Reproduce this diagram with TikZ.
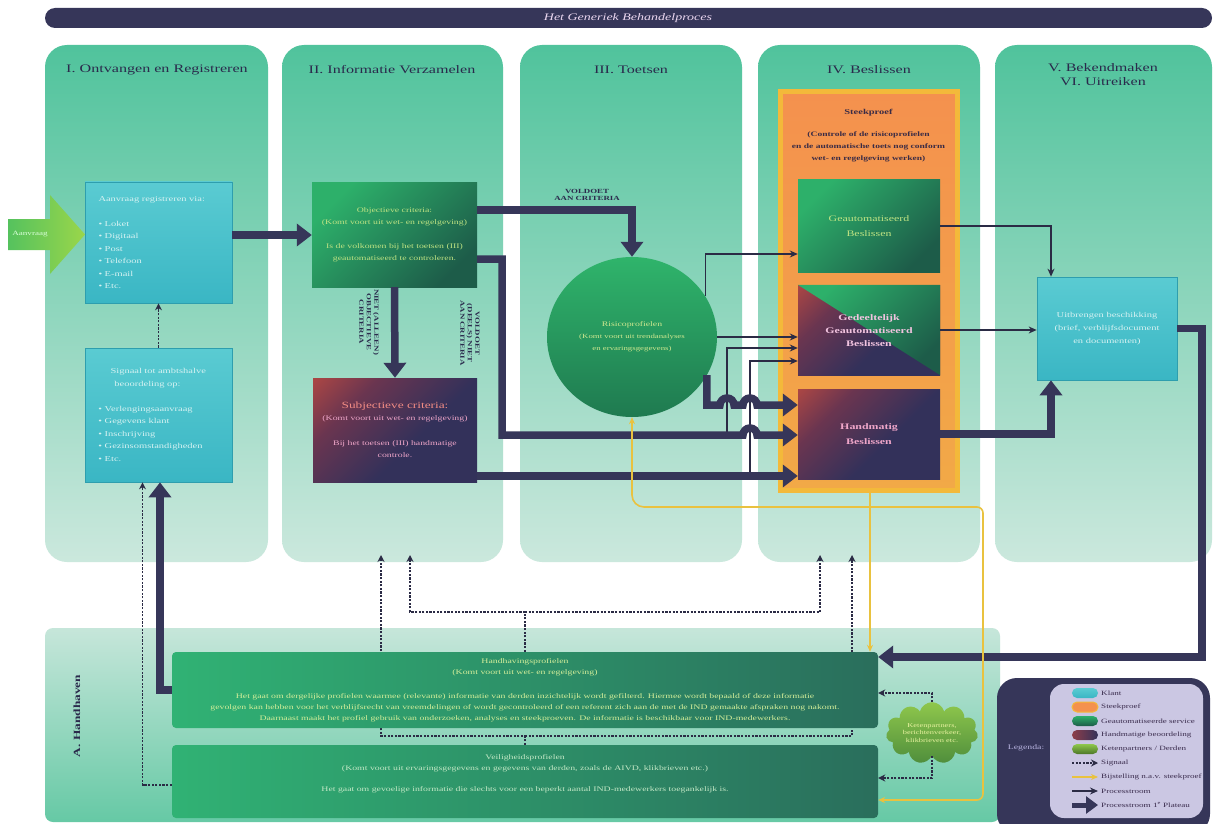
\documentclass[tikz,border=0pt]{standalone}
\usepackage{fontspec}
\setmainfont{Liberation Serif}[FakeStretch=1.4]
\usetikzlibrary{arrows.meta,shapes.geometric,shapes.symbols,calc}
\newcommand{\myfs}[2]{\fontsize{#1}{#2}\selectfont}
\definecolor{navyA}{HTML}{363659}
\definecolor{lineD}{HTML}{2B2B45}
\definecolor{hdrC}{HTML}{2A2A4C}
\definecolor{bannerTx}{HTML}{EBD7F0}
\definecolor{colTop}{HTML}{50C39C}
\definecolor{colBot}{HTML}{CBE8DD}
\definecolor{bandTop}{HTML}{C6E6DA}
\definecolor{bandBot}{HTML}{66C9A5}
\definecolor{cyanT}{HTML}{5ACBD2}
\definecolor{cyanB}{HTML}{3AB6C4}
\definecolor{cyanE}{HTML}{2E9EAE}
\definecolor{cyanTx}{HTML}{D6F2F2}
\definecolor{grL}{HTML}{2DB06A}
\definecolor{grD}{HTML}{1D5C49}
\definecolor{grTx}{HTML}{BFE383}
\definecolor{redC}{HTML}{E2553A}
\definecolor{plumM}{HTML}{6A3550}
\definecolor{navyD}{HTML}{33315A}
\definecolor{pinkTx}{HTML}{EFA6C9}
\definecolor{salmon}{HTML}{F28C84}
\definecolor{orgF}{HTML}{F4914E}
\definecolor{orgB}{HTML}{F2A947}
\definecolor{goldE}{HTML}{F3B93A}
\definecolor{steekTx}{HTML}{3A2B45}
\definecolor{yelL}{HTML}{E9C23F}
\definecolor{cloudT}{HTML}{8FC74C}
\definecolor{cloudB}{HTML}{4F8E3C}
\definecolor{cloudTx}{HTML}{E8F2A0}
\definecolor{lavL}{HTML}{CBC7E3}
\definecolor{legTx}{HTML}{3B2D4E}
\definecolor{legLbl}{HTML}{B8B4E0}
\definecolor{olive}{HTML}{6DAA3A}
\definecolor{hbL}{HTML}{30B274}
\definecolor{hbD}{HTML}{2A6E5C}
\definecolor{hTx}{HTML}{D4EE9A}
\definecolor{oTx}{HTML}{C3E8C6}
\definecolor{riskT}{HTML}{2FB46B}
\definecolor{riskB}{HTML}{1F7A50}
\definecolor{riskTx}{HTML}{CFE88F}
\definecolor{arrL}{HTML}{55C25E}
\definecolor{arrR}{HTML}{9AD64A}
\definecolor{pinkL}{HTML}{F2C4E0}
\pgfdeclareverticalshading{redcorner}{100bp}{color(0bp)=(navyD); color(42bp)=(navyD); color(68bp)=(plumM); color(100bp)=(redC)}
\begin{document}
\begin{tikzpicture}[x=1pt,y=-1pt,
  col/.style={rounded corners=22pt, top color=colTop, bottom color=colBot},
  hdr/.style={font=\myfs{11.5}{14}, text=hdrC, align=center, inner sep=0pt},
  cyanbox/.style={draw=cyanE, line width=0.7pt, top color=cyanT, bottom color=cyanB, text=cyanTx, inner sep=0pt},
  grbox/.style={top color=grL, bottom color=grD, shading angle=45, text=grTx, inner sep=0pt, align=center},
  rdbox/.style={shade, shading=redcorner, shading angle=45, text=pinkTx, inner sep=0pt, align=center},
  hbox/.style={rounded corners=4pt, left color=hbL, right color=hbD, inner sep=0pt},
  thk/.style={draw=navyA, line width=7.5pt, -{Triangle[length=15pt,width=22pt]}},
  thn/.style={draw=lineD, line width=1.8pt, -{Stealth[length=8pt,width=7pt]}},
  sig/.style={draw=lineD, line width=1.8pt, dash pattern=on 2.2pt off 1.4pt, -{Stealth[length=7pt,width=7pt]}},
  yel/.style={draw=yelL, line width=1.6pt, -{Stealth[length=7pt,width=6pt]}},
  lbl/.style={font=\bfseries\myfs{6.3}{7.5}, text=hdrC, align=center, inner sep=0pt},
  pill/.style={minimum width=26pt, minimum height=10pt, rounded corners=5pt, inner sep=0pt},
  legtx/.style={font=\myfs{6.5}{8}, text=legTx, anchor=west, inner sep=0pt},
]
\useasboundingbox (0,0) rectangle (1219,824);
\fill[white] (0,0) rectangle (1219,824);
% banner
\fill[navyA, rounded corners=10pt] (45,8) rectangle (1212,28);
\node[font=\itshape\myfs{10}{12}, text=bannerTx, inner sep=0pt] (title) at (628,18) {Het Generiek Behandelproces};
% columns
\shade[col] (45,45) rectangle (268,562);
\shade[col] (282,45) rectangle (503,562);
\shade[col] (520,45) rectangle (742,562);
\shade[col] (758,45) rectangle (980,562);
\shade[col] (995,45) rectangle (1212,562);
% handhaven band
\shade[top color=bandTop, bottom color=bandBot, rounded corners=8pt] (45,628) rectangle (1000,822);
% headers
\node[hdr] (h1) at (157,70) {I. Ontvangen en Registreren};
\node[hdr] (h2) at (392,70) {II. Informatie Verzamelen};
\node[hdr] (h3) at (631,70) {III. Toetsen};
\node[hdr] (h4) at (869,70) {IV. Beslissen};
\node[hdr] (h5) at (1103,75) {V. Bekendmaken\\VI. Uitreiken};
\node[font=\bfseries\myfs{9.5}{11}, text=hdrC, rotate=90, inner sep=0pt] (aH) at (77,716) {A. Handhaven};

% aanvraag arrow
\shade[left color=arrL, right color=arrR] (8,219) -- (50,219) -- (50,195) -- (85,234.5) -- (50,274) -- (50,250) -- (8,250) -- cycle;
\node[font=\myfs{6.5}{8}, text=white!85!green, inner sep=0pt] (aanvraag) at (30,234.5) {Aanvraag};

% boxes column I
\node[cyanbox, minimum width=147pt, minimum height=121pt, text width=120pt, align=left, font=\myfs{7.5}{12.5}] (boxA) at (158.5,242.5)
 {Aanvraag registreren via:\\[12.5pt]\textbullet\ Loket\\\textbullet\ Digitaal\\\textbullet\ Post\\\textbullet\ Telefoon\\\textbullet\ E-mail\\\textbullet\ Etc.};
\node[cyanbox, minimum width=147pt, minimum height=134pt, text width=120pt, align=left, font=\myfs{7.5}{12.5}] (boxB) at (158.5,415)
 {\hspace*{12pt}Signaal tot ambtshalve\\\hspace*{16pt}beoordeling op:\\[12.5pt]\textbullet\ Verlengingsaanvraag\\\textbullet\ Gegevens klant\\\textbullet\ Inschrijving\\\textbullet\ Gezinsomstandigheden\\\textbullet\ Etc.};

% column II
\node[grbox, minimum width=165pt, minimum height=104pt, font=\myfs{7}{12}] (obj) at (394.5,235)
 {Objectieve criteria:\\(Komt voort uit wet- en regelgeving)\\[12pt]Is de volkomen bij het toetsen (III)\\geautomatiseerd te controleren.};
\node[rdbox, minimum width=164pt, minimum height=104pt, font=\myfs{7}{12.5}] (subj) at (395,430)
 {{\color{salmon}\myfs{9.5}{12}Subjectieve criteria:}\\(Komt voort uit wet- en regelgeving)\\[12pt]Bij het toetsen (III) handmatige\\controle.};
\node[lbl, rotate=-90] (lblA) at (369,322) {NIET (ALLEEN)\\OBJECTIEVE\\CRITERIA};
\node[lbl, rotate=-90] (lblB) at (470,333) {VOLDOET\\(DEELS) NIET\\AAN CRITERIA};

% column III
\node[ellipse, top color=riskT, bottom color=riskB, minimum width=170pt, minimum height=160pt, inner sep=0pt, align=center, text=riskTx, font=\myfs{6.3}{12}] (risk) at (632,337)
 {{\myfs{7}{12}Risicoprofielen}\\(Komt voort uit trendanalyses\\en ervaringsgegevens)};
\node[lbl] (lblC) at (587,195) {VOLDOET\\AAN CRITERIA};

% column IV
\node[draw=goldE, line width=5pt, top color=orgF, bottom color=orgB, minimum width=177pt, minimum height=398pt, inner sep=0pt] (steek) at (868.5,291) {};
\node[font=\bfseries\myfs{6.8}{12}, text=steekTx, align=center, inner sep=0pt] (steekTx) at (868.5,136)
 {{\myfs{7.5}{12}Steekproef}\\[10pt](Controle of de risicoprofielen\\en de automatische toets nog conform\\wet- en regelgeving werken)};
\node[grbox, minimum width=142pt, minimum height=92pt, font=\myfs{8.5}{15}] (geaut) at (869,226) {Geautomatiseerd\\Beslissen};
\node[rdbox, minimum width=142pt, minimum height=90pt] (gedeel) at (869,330) {};
\shade[top color=grL, bottom color=grD, shading angle=45] (gedeel.north west) -- (gedeel.north east) -- (gedeel.south east) -- cycle;
\node[font=\bfseries\myfs{8.5}{13}, text=pinkL, align=center, inner sep=0pt] (gedeelTx) at (869,331) {Gedeeltelijk\\Geautomatiseerd\\Beslissen};
\node[rdbox, minimum width=142pt, minimum height=90pt, font=\bfseries\myfs{8.5}{15}] (handm) at (869,434) {Handmatig\\Beslissen};

% column V
\node[cyanbox, minimum width=140pt, minimum height=103pt, align=center, font=\myfs{7.5}{13}] (uitbr) at (1107,328.5)
 {Uitbrengen beschikking\\(brief, verblijfsdocument\\en documenten)};

% bottom boxes and signals behind
\node[hbox, minimum width=706pt, minimum height=73pt] (overn) at (525,781.5) {};
\coordinate (br2) at (525,736);
\coordinate (a3) at (381,555);
\coordinate (a4) at (852,555);
\draw[sig] (overn.north) -- (br2) -| (a3);
\draw[sig] (br2) -| (a4);
\node[font=\myfs{7}{11}, text=oTx, align=center, inner sep=0pt] (overnTx) at (525,774)
 {Veiligheidsprofielen\\(Komt voort uit ervaringsgegevens en gegevens van derden, zoals de AIVD, klikbrieven etc.)\\[10pt]Het gaat om gevoelige informatie die slechts voor een beperkt aantal IND-medewerkers toegankelijk is.};
\node[hbox, minimum width=706pt, minimum height=76pt, align=center, text=hTx, font=\myfs{7}{11}] (handh) at (525,690)
 {Handhavingsprofielen\\(Komt voort uit wet- en regelgeving)\\[13pt]Het gaat om dergelijke profielen waarmee (relevante) informatie van derden inzichtelijk wordt gefilterd. Hiermee wordt bepaald of deze informatie\\gevolgen kan hebben voor het verblijfsrecht van vreemdelingen of wordt gecontroleerd of een referent zich aan de met de IND gemaakte afspraken nog nakomt.\\Daarnaast maakt het profiel gebruik van onderzoeken, analyses en steekproeven. De informatie is beschikbaar voor IND-medewerkers.};
\node[cloud, cloud puffs=11, aspect=1.8, top color=cloudT, bottom color=cloudB, minimum width=92pt, minimum height=52pt, inner sep=0pt, align=center, font=\myfs{6}{7.5}, text=cloudTx] (cloud) at (932,733)
 {Ketenpartners,\\berichtenverkeer,\\klikbrieven etc.};

% ---- connectors ----
\draw[thk] ([yshift=7.5pt]boxA.east) -- (obj.west);
\draw[sig] (boxB.north) -- (boxA.south);
\draw[thk] (obj.south) -- (subj.north);
\draw[thk] ([yshift=25pt]obj.east) -| (risk.north);
% thin branches (drawn first so thick lines hop over them)
\coordinate (j1) at (727,435);
\coordinate (j2) at (750,476);
\draw[thn] (risk.29) |- ([yshift=-28pt]geaut.west);
\draw[thn] (risk.east) -- (risk.east -| gedeel.west);
\draw[thn] (j1) |- ([yshift=-18pt]gedeel.west);
\draw[thn] (j2) |- ([yshift=-31pt]gedeel.west);
\draw[thk] (risk.-27) |- (720,405) arc[start angle=180,end angle=360,radius=7] -- (743,405) arc[start angle=180,end angle=360,radius=7] -- ([yshift=29pt]handm.west);
\draw[thk] ([yshift=-24pt]obj.east) -| (502,435) -- (743,435) arc[start angle=180,end angle=360,radius=7] -- ([yshift=-1pt]handm.west);
\draw[thk] ([yshift=-46pt]subj.east) -- ([yshift=-42pt]handm.west);
% outputs
\draw[thn] (geaut.east) -| ([xshift=-56pt]uitbr.north);
\draw[thn] (gedeel.east) -- (gedeel.east -| uitbr.west);
\draw[thk] (handm.east) -| ([xshift=-56pt]uitbr.south);
\coordinate (rt) at (1202,657);
\draw[thk] (uitbr.east) -| (rt) -- ([yshift=33pt]handh.east);
% handhaven feedback
\draw[thk] (handh.west) -| ([xshift=1.5pt]boxB.south);
\draw[sig] ([yshift=-3.5pt]overn.west) -| ([xshift=-16pt]boxB.south);
\coordinate (br1) at (525,612);
\coordinate (a1) at (410,555);
\coordinate (a2) at (820,555);
\draw[sig] (handh.north) -- (br1) -| (a1);
\draw[sig] (br1) -| (a2);
\draw[sig] (cloud.north) |- ([yshift=-3pt]handh.east);
\draw[sig] (cloud.south) |- ([yshift=3.5pt]overn.east);
% bijstelling (yellow)
\coordinate (yj) at (870,507);
\draw[yel] ([xshift=1.5pt]steek.south) -- ([xshift=345pt]handh.north);
\draw[yel, rounded corners=12pt] (yj) -- (632,507) -- (risk.south);
\draw[yel, rounded corners=6pt] (yj) -- (983,507) -- (983,800) -- ([yshift=-18.5pt]overn.east);

% ---- legend ----
\fill[navyA, rounded corners=20pt] (997,678) rectangle (1210,834);
\fill[lavL, rounded corners=14pt] (1050,684) rectangle (1203,818);
\node[font=\myfs{7}{8}, text=legLbl, inner sep=0pt] (legT) at (1026,748) {Legenda:};
\node[pill, top color=cyanT, bottom color=cyanB] (p1) at (1085,693) {};
\node[pill, fill=orgF, draw=goldE, line width=1pt] (p2) at (1085,707) {};
\node[pill, top color=grL, bottom color=grD] (p3) at (1085,721) {};
\node[pill, left color=plumM!70!redC, right color=navyD] (p4) at (1085,735) {};
\node[pill, top color=cloudT, bottom color=olive!70!black] (p5) at (1085,749) {};
\coordinate (s1a) at (1072,763); \coordinate (s1b) at (1098,763);
\draw[sig] (s1a) -- (s1b);
\coordinate (s2a) at (1072,777); \coordinate (s2b) at (1098,777);
\draw[yel] (s2a) -- (s2b);
\coordinate (s3a) at (1072,791); \coordinate (s3b) at (1098,791);
\draw[thn] (s3a) -- (s3b);
\coordinate (s4a) at (1072,805); \coordinate (s4b) at (1098,805);
\draw[draw=navyA, line width=5pt, -{Triangle[length=12pt,width=17pt]}] (s4a) -- (s4b);
\node[legtx] (t1) at (1101,693) {Klant};
\node[legtx] (t2) at (1101,707) {Steekproef};
\node[legtx] (t3) at (1101,721) {Geautomatiseerde service};
\node[legtx] (t4) at (1101,735) {Handmatige beoordeling};
\node[legtx] (t5) at (1101,749) {Ketenpartners / Derden};
\node[legtx] (t6) at (1101,763) {Signaal};
\node[legtx] (t7) at (1101,777) {Bijstelling n.a.v. steekproef};
\node[legtx] (t8) at (1101,791) {Processtroom};
\node[legtx] (t9) at (1101,805) {Processtroom 1\textsuperscript{e} Plateau};
\end{tikzpicture}
\end{document}
